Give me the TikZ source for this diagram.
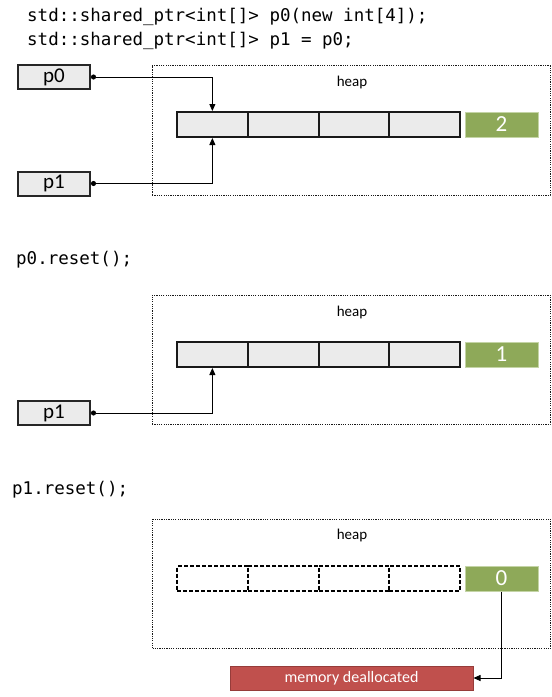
\documentclass[tikz,border=0pt]{standalone}
\usepackage{fontspec}
\setmainfont{Carlito}
\setmonofont{DejaVu Sans Mono}
\usetikzlibrary{arrows.meta}
\definecolor{cellgray}{RGB}{235,235,235}
\definecolor{cntgreen}{RGB}{142,169,89}
\definecolor{cntedge}{RGB}{196,212,166}
\definecolor{memred}{RGB}{192,80,77}
\definecolor{memedge}{RGB}{150,60,58}
\tikzset{
	code/.style={anchor=west, inner sep=0pt, font=\fontsize{17.5}{20}\selectfont\ttfamily},
	ptr/.style={draw=black!85, line width=2pt, fill=cellgray, minimum width=72pt, minimum height=24pt, inner sep=0pt, font=\fontsize{21}{21}\selectfont},
	heap/.style={draw=black!90, line width=1pt, dash pattern=on 1.2pt off 1.1pt, minimum width=398pt, minimum height=129.5pt, inner sep=0pt},
	heaplbl/.style={inner sep=0pt, font=\fontsize{15}{16}\selectfont},
	cell/.style={draw=black!90, line width=2pt, fill=cellgray, minimum width=70.75pt, minimum height=25pt, inner sep=0pt},
	freed/.style={cell, fill=white, draw=black, dash pattern=on 4pt off 2pt},
	count/.style={fill=cntgreen, draw=cntedge, line width=1pt, text=white, minimum width=73pt, minimum height=25pt, inner sep=0pt, font=\fontsize{23}{23}\selectfont},
	memo/.style={fill=memred, draw=memedge, line width=1pt, text=white, minimum width=243pt, minimum height=24pt, inner sep=0pt, font=\fontsize{16}{16}\selectfont},
	link/.style={line width=0.8pt, {Circle[length=5pt]}-{Triangle[length=7pt,width=6pt]}}
}
\begin{document}
\begin{tikzpicture}[x=1pt,y=-1pt]
	\useasboundingbox (0,0) rectangle (552,697);
	
	% p0 and p1 share the array
	\node[code] (codeA) at (27,17) {std::shared\_ptr<int[]> p0(new int[4]);};
	\node[code] (codeB) at (27,41) {std::shared\_ptr<int[]> p1 = p0;};
	\node[heap] (heapA) at (351,130.5) {};
	\node[heaplbl] (hlA) at (352,82) {heap};
	\foreach \i in {1,...,4}
		\node[cell] (a\i) at ({141.625+70.75*\i},124.5) {};
	\node[count] (cntA) at (501.5,124.5) {2};
	\node[ptr] (pA0) at (54,77) {p0};
	\node[ptr] (pA1) at (54,183.5) {p1};
	
	\draw[link] (pA0.east) -| (a1.north);
	\draw[link] (pA1.east) -| (a1.south);
	
	% after p0.reset()
	\node[code] (codeC) at (16,260) {p0.reset();};
	\node[heap] (heapB) at (351,360) {};
	\node[heaplbl] (hlB) at (352,312) {heap};
	\foreach \i in {1,...,4}
		\node[cell] (b\i) at ({141.625+70.75*\i},354.5) {};
	\node[count] (cntB) at (501.5,354.5) {1};
	\node[ptr] (pB1) at (54,413) {p1};
	
	\draw[link] (pB1.east) -| (b1.south);
	
	% after p1.reset()
	\node[code] (codeD) at (12,490) {p1.reset();};
	\node[heap] (heapC) at (351.5,584) {};
	\node[heaplbl] (hlC) at (352,535) {heap};
	\foreach \i in {1,...,4}
		\node[freed] (c\i) at ({141.625+70.75*\i},578.5) {};
	\node[count] (cntC) at (501.5,578.5) {0};
	\node[memo] (mem) at (351.5,678) {memory deallocated};
	
	\draw[line width=0.8pt,-{Triangle[length=7pt,width=6pt]}] (cntC.south) |- (mem.east);
\end{tikzpicture}
\end{document}
